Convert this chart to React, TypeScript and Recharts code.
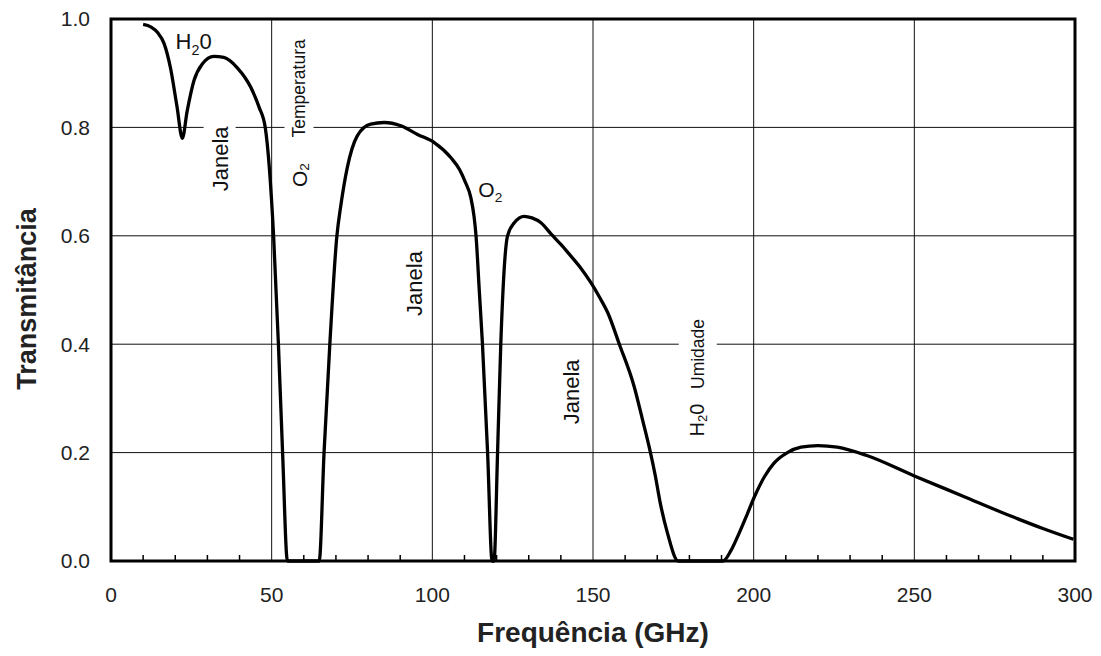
import React from "react";
import {
  LineChart,
  Line,
  XAxis,
  YAxis,
  CartesianGrid,
  ReferenceArea,
  ReferenceDot,
} from "recharts";

// frequência (GHz) e transmitância
const FREQ = [
  10, 12.5, 14.5, 16.5, 18.5, 20.5, 22.2, 23.7, 25.8, 28.4, 32, 35.1, 39.3, 43.5, 46.1, 48, 50.6, 52.1,
  53.4, 54.9, 60, 64.8, 66.3, 68.1, 70.3, 71.5, 73.5, 76.6, 80.8, 85, 90.2, 95.4, 100.6, 105.8, 108.5,
  110.2, 112, 113, 113.6, 114.6, 115.6, 117.2, 118.6, 119.2, 120.3, 121.3, 123.4, 125.5, 128.6, 131,
  133.8, 137, 140, 142.2, 146, 149.4, 152, 154.6, 158.2, 162.8, 165.4, 167.5, 169.3, 171, 173.2, 176.5,
  183, 190.5, 193, 195, 198.1, 200.2, 203.3, 206.4, 210.5, 214.7, 220, 226, 235, 250, 265, 280, 290,
  299.5,
];
const TRANS = [
  0.99, 0.985, 0.975, 0.955, 0.91, 0.84, 0.78, 0.83, 0.886, 0.917, 0.931, 0.929, 0.91, 0.874, 0.837,
  0.8, 0.6, 0.4, 0.2, 0, 0, 0, 0.2, 0.4, 0.6, 0.655, 0.725, 0.784, 0.806, 0.809, 0.803, 0.787, 0.772,
  0.744, 0.722, 0.7, 0.67, 0.635, 0.6, 0.5, 0.4, 0.2, 0, 0, 0.2, 0.4, 0.6, 0.624, 0.636, 0.633, 0.624,
  0.603, 0.584, 0.569, 0.542, 0.513, 0.487, 0.458, 0.4, 0.322, 0.261, 0.21, 0.16, 0.105, 0.051, 0, 0,
  0, 0.02, 0.045, 0.088, 0.118, 0.155, 0.181, 0.2, 0.21, 0.213, 0.21, 0.195, 0.157, 0.12, 0.083, 0.06,
  0.04,
];

const X_TICKS = [0, 50, 100, 150, 200, 250, 300];
const X_MINOR = Array.from({ length: 31 }, (_, i) => i * 10);
const Y_TICKS = [0, 0.2, 0.4, 0.6, 0.8, 1.0];

// anotações: texto (partes: normal, subscrito, resto) e posição em coordenadas de dados
const NOTE_IDS = ["h2o", "janela1", "temp", "o2v", "janela2", "o2h", "janela3", "umid", "h2ov"];
const NOTE_PARTS = [
  ["H", "2", "0"],
  ["Janela"],
  ["Temperatura"],
  ["O", "2"],
  ["Janela"],
  ["O", "2"],
  ["Janela"],
  ["Umidade"],
  ["H", "2", "0"],
];
const NOTE_X = [20.1, 33.8, 58.5, 58.4, 94.3, 114.3, 143, 182.6, 182.4];
const NOTE_Y = [0.944, 0.742, 0.872, 0.712, 0.512, 0.672, 0.312, 0.382, 0.26];

const data = FREQ.map((f, i) => ({ f, t: TRANS[i] }));

const FONT = "'Liberation Sans', Arial, sans-serif";

// estilo de cada anotação
const NOTE_STYLE: Record<string, { vertical: boolean; size: number; box?: [number, number] }> = {
  h2o: { vertical: false, size: 22 },
  janela1: { vertical: true, size: 22, box: [32, 84] },
  temp: { vertical: true, size: 17.5, box: [29, 122] },
  o2v: { vertical: true, size: 21 },
  janela2: { vertical: true, size: 22, box: [34, 85] },
  o2h: { vertical: false, size: 21 },
  janela3: { vertical: true, size: 22, box: [31, 83] },
  umid: { vertical: true, size: 17.5, box: [38, 97] },
  h2ov: { vertical: true, size: 20 },
};

function noteLabel(idx: number) {
  const id = NOTE_IDS[idx];
  const parts = NOTE_PARTS[idx];
  const st = NOTE_STYLE[id];
  return (props: any) => {
    const { x, y } = props.viewBox;
    const sub = st.size * 0.65;
    const spans = [
      <tspan key="a">{parts[0]}</tspan>,
      parts[1] ? (
        <tspan key="b" fontSize={sub} dy={st.size * 0.25}>
          {parts[1]}
        </tspan>
      ) : null,
      parts[2] ? (
        <tspan key="c" dy={-st.size * 0.25}>
          {parts[2]}
        </tspan>
      ) : null,
    ];
    if (!st.vertical) {
      return (
        <text x={x} y={y} fontSize={st.size} fontFamily={FONT} fill="#111" textAnchor="start">
          {spans}
        </text>
      );
    }
    return (
      <g>
        {st.box && (
          <rect x={x - st.box[0] / 2} y={y - st.box[1] / 2} width={st.box[0]} height={st.box[1]} fill="#fff" />
        )}
        <text
          x={x}
          y={y}
          transform={`rotate(-90 ${x} ${y})`}
          fontSize={st.size}
          fontFamily={FONT}
          fill="#111"
          textAnchor="middle"
          dominantBaseline="central"
        >
          {spans}
        </text>
      </g>
    );
  };
}

const XTick = (props: any) => {
  const { x, y, payload } = props;
  const v = payload.value;
  if (v % 50 === 0) {
    return (
      <text x={x} y={y + 41} textAnchor="middle" fontSize={21} fontFamily={FONT} fill="#222">
        {v}
      </text>
    );
  }
  return <line x1={x} x2={x} y1={y} y2={y - 6} stroke="#000" strokeWidth={1.5} />;
};

export default function App() {
  return (
    <LineChart width={1085} height={645} data={data} margin={{ top: 11, right: 18, bottom: 0, left: 0 }}>
      <CartesianGrid stroke="#111" strokeWidth={1} verticalValues={X_TICKS} horizontalValues={Y_TICKS} />
      <XAxis
        dataKey="f"
        type="number"
        domain={[0, 300]}
        ticks={X_MINOR}
        interval={0}
        tick={<XTick />}
        tickLine={false}
        axisLine={false}
        tickSize={0}
        tickMargin={0}
        height={92}
        label={{
          content: (p: any) => {
            const vb = p.viewBox;
            return (
              <text
                x={vb.x + vb.width / 2}
                y={vb.y + 81}
                textAnchor="middle"
                fontSize={28}
                fontWeight="bold"
                fontFamily={FONT}
                fill="#222"
              >
                Frequência (GHz)
              </text>
            );
          },
        }}
      />
      <YAxis
        type="number"
        domain={[0, 1]}
        ticks={Y_TICKS}
        interval={0}
        tickFormatter={(v: number) => v.toFixed(1)}
        tick={{ fontSize: 21, fontFamily: FONT, fill: "#222" }}
        tickLine={false}
        axisLine={false}
        tickSize={0}
        tickMargin={21}
        width={103}
        label={{
          content: (p: any) => {
            const vb = p.viewBox;
            const cx = 19;
            const cy = vb.y + vb.height / 2 + 9;
            return (
              <text
                x={cx}
                y={cy}
                transform={`rotate(-90 ${cx} ${cy})`}
                textAnchor="middle"
                dominantBaseline="central"
                fontSize={27}
                fontWeight="bold"
                fontFamily={FONT}
                fill="#222"
              >
                Transmitância
              </text>
            );
          },
        }}
      />
      {NOTE_IDS.map((id, i) => (
        <ReferenceDot key={id} x={NOTE_X[i]} y={NOTE_Y[i]} r={0} stroke="none" fill="none" label={noteLabel(i)} />
      ))}
      <Line
        type="monotone"
        dataKey="t"
        stroke="#000"
        strokeWidth={3.3}
        dot={false}
        activeDot={false}
        isAnimationActive={false}
      />
      <ReferenceArea x1={0} x2={300} y1={0} y2={1} fill="none" stroke="#000" strokeWidth={3} />
    </LineChart>
  );
}
